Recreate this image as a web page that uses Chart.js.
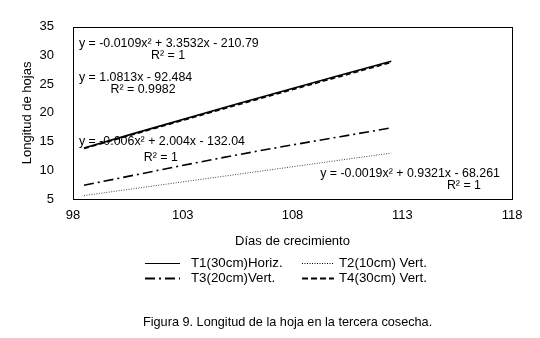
<!DOCTYPE html>
<html>
<head>
<meta charset="utf-8">
<script src="https://cdn.jsdelivr.net/npm/chart.js@4/dist/chart.umd.min.js"></script>
<style>
html,body{margin:0;padding:0;background:#fff;}
#wrap{position:relative;width:540px;height:338px;}
</style>
</head>
<body>
<div id="wrap"><canvas id="c" width="540" height="338"></canvas></div>
<script>
// ---- data ----
const days = [98.5, 105.5, 112.5];
const t1 = [13.9, 21.6, 29.0];
const t2 = [5.6, 9.3, 13.0];
const t3 = [7.4, 12.7, 17.4];
const t4 = [13.8, 21.4, 28.8];
const seriesNames = ['T1(30cm)Horiz.', 'T2(10cm) Vert.', 'T3(20cm)Vert.', 'T4(30cm) Vert.'];
const xTicks = [98, 103, 108, 113, 118];
const yTicks = [5, 10, 15, 20, 25, 30, 35];
const eqTexts = [
  'y = -0.0109x² + 3.3532x - 210.79', 'R² = 1',
  'y = 1.0813x - 92.484', 'R² = 0.9982',
  'y = -0.006x² + 2.004x - 132.04', 'R² = 1',
  'y = -0.0019x² + 0.9321x - 68.261', 'R² = 1'
];
// label anchors (data coordinates) and alignment
const eqPlace = [
  {x:98.27, y:32.07, a:'left'}, {x:102.33, y:29.95, a:'center'},
  {x:98.27, y:26.2, a:'left'}, {x:101.19, y:24.07, a:'center'},
  {x:98.27, y:14.94, a:'left'}, {x:102.0, y:12.17, a:'center'},
  {x:117.45, y:9.4, a:'right'}, {x:115.81, y:7.28, a:'center'}
];

const FONT = '"Liberation Sans", Arial, sans-serif';
const styles = [
  {dash: [], width: 1.6, color: '#000'},
  {dash: [1, 1.5], width: 1, color: '#444'},
  {dash: [10, 4, 2, 4], width: 1.6, color: '#000'},
  {dash: [5, 3], width: 1.6, color: '#000'}
];
const legendDash = [[], [1,1.5], [10,4,2,4], [6,3]];

function pts(v){ return days.map((d,i)=>({x:d, y:v[i]})); }
const allSeries = [t1, t2, t3, t4];

const datasets = allSeries.map((v,i)=>({
  label: seriesNames[i],
  data: pts(v),
  borderColor: styles[i].color,
  borderWidth: styles[i].width,
  borderDash: styles[i].dash,
  pointRadius: 0,
  fill: false,
  tension: 0.3,
  cubicInterpolationMode: 'monotone'
}));

const extras = {
  id: 'extras',
  afterDraw(chart){
    const ctx = chart.ctx, a = chart.chartArea;
    const xs = chart.scales.x, ys = chart.scales.y;
    ctx.save();
    // plot box
    ctx.strokeStyle = '#000'; ctx.lineWidth = 1;
    ctx.strokeRect(Math.round(a.left)+0.5, Math.round(a.top)+0.5, Math.round(a.right-a.left), Math.round(a.bottom-a.top));
    // equations
    ctx.fillStyle = '#000';
    ctx.font = '12.4px ' + FONT;
    ctx.textBaseline = 'middle';
    eqTexts.forEach((t,i)=>{
      const p = eqPlace[i];
      ctx.textAlign = p.a;
      ctx.fillText(t, xs.getPixelForValue(p.x), ys.getPixelForValue(p.y));
    });
    // legend
    ctx.font = '13.3px ' + FONT;
    const cols = [{lx:145, lw:35, tx:191}, {lx:302, lw:32, tx:339}];
    const rows = [263, 278];
    [0,1,2,3].forEach((si,k)=>{
      const c = cols[k%2], r = rows[Math.floor(k/2)];
      ctx.beginPath();
      ctx.setLineDash(legendDash[si]);
      ctx.lineWidth = (si===0 || si===1) ? 1.2 : 2.2;
      ctx.strokeStyle = '#000';
      ctx.moveTo(c.lx, r+0.5); ctx.lineTo(c.lx + c.lw, r+0.5);
      ctx.stroke();
      ctx.setLineDash([]);
      ctx.textAlign = 'left';
      ctx.fillText(seriesNames[si], c.tx, r);
    });
    // caption
    ctx.font = '12.7px ' + FONT;
    ctx.textAlign = 'left';
    ctx.fillText('Figura 9. Longitud de la hoja en la tercera cosecha.', 143, 322);
    ctx.restore();
  }
};

new Chart(document.getElementById('c'), {
  type: 'line',
  data: { datasets },
  options: {
    responsive: false,
    animation: false,
    devicePixelRatio: 1,
    layout: { padding: { top: 15, right: 28, left: 0, bottom: 89 } },
    plugins: { legend: { display: false }, tooltip: { enabled: false } },
    scales: {
      x: {
        type: 'linear', min: 98, max: 118,
        afterBuildTicks(s){ s.ticks = xTicks.map(v=>({value:v})); },
        grid: { display: false, drawTicks: false },
        border: { display: false },
        ticks: { color: '#000', font: { family: FONT, size: 13 }, padding: 9, maxRotation: 0 },
        title: { display: true, text: 'Días de crecimiento', color: '#000', font: { family: FONT, size: 13 }, padding: { top: 6, bottom: 0 } },
        afterFit(s){ s.height = 50; }
      },
      y: {
        type: 'linear', min: 5, max: 35,
        afterBuildTicks(s){ s.ticks = yTicks.map(v=>({value:v})); },
        grid: { display: false, drawTicks: false },
        border: { display: false },
        ticks: { color: '#000', font: { family: FONT, size: 13 }, padding: 19 },
        title: { display: true, text: 'Longitud de hojas', color: '#000', font: { family: FONT, size: 13 }, padding: { top: 20, bottom: 0 } },
        afterFit(s){ s.width = 73; }
      }
    }
  },
  plugins: [extras]
});
</script>
</body>
</html>
